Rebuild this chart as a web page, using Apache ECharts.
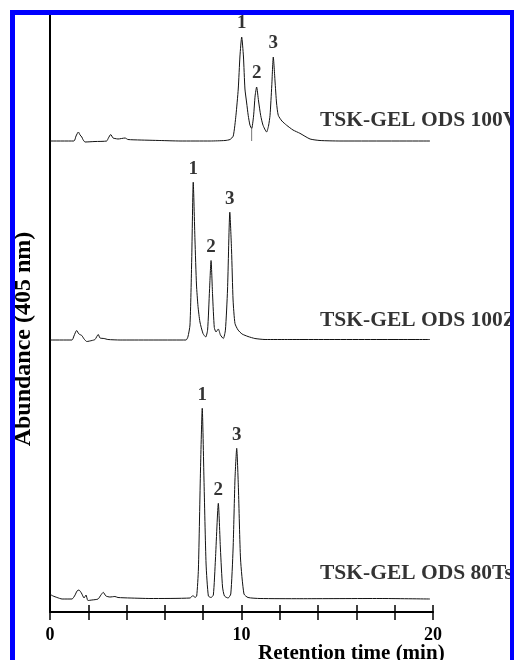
<!DOCTYPE html>
<html>
<head>
<meta charset="UTF-8">
<title>TSK-GEL chromatograms</title>
<script type="text/javascript" src="https://cdn.jsdelivr.net/npm/echarts@6/dist/echarts.min.js"></script>
<style>
html,body{margin:0;padding:0;background:#fff;}
</style>
</head>
<body>
<div id="main" style="width:514px;height:660px;"></div>

<script type="text/javascript">
// column names, top to bottom
var columns = ['TSK-GEL ODS 100V', 'TSK-GEL ODS 100Z', 'TSK-GEL ODS 80Ts'];
// vertical offset of each trace (abundance units)
var offsets = [471, 272, 13];
// labelled x ticks
var xLabels = [0, 10, 20];
var peakNames = ['1', '2', '3'];

// [retention time (min), abundance above own baseline]
var trace100V = [
  [0, 0], [1.25, 0], [1.36, 5], [1.48, 9], [1.57, 6], [1.66, 4], [1.72, 1.5], [1.83, -1],
  [2.35, -0.5], [2.96, 0], [3.05, 3], [3.17, 6.5], [3.29, 3], [3.39, 2.5], [3.55, 2],
  [3.92, 3], [4.07, 1.5], [4.7, 1], [5.74, 0.5], [6.79, 0], [8.36, 0], [9.14, 0.5],
  [9.4, 1.5], [9.57, 5], [9.71, 25.7], [9.83, 52], [9.92, 85], [10.01, 104], [10.1, 85],
  [10.18, 52], [10.27, 38], [10.35, 25.7], [10.44, 16], [10.53, 12.4], [10.63, 25],
  [10.71, 45], [10.79, 54], [10.89, 40], [11.0, 25.7], [11.12, 16], [11.31, 9],
  [11.41, 15], [11.49, 25.7], [11.58, 55], [11.66, 84], [11.75, 60], [11.83, 38],
  [11.92, 25.7], [12.11, 20], [12.36, 15.7], [12.69, 11], [13.05, 7.7], [13.58, 2],
  [14.1, 0.5], [15.14, 0], [19.84, 0]
];
var trace100Z = [
  [0, 0], [1.15, 0], [1.25, 4], [1.39, 9.5], [1.51, 6], [1.66, 4.5], [1.78, 1], [1.92, -1.5],
  [2.19, -0.5], [2.35, 0.5], [2.52, 5.5], [2.61, 2], [2.82, 1.5], [3.03, 0.5], [3.66, 0],
  [7.1, 0], [7.2, 3], [7.31, 15], [7.4, 80], [7.48, 157.8], [7.57, 100], [7.65, 55],
  [7.73, 33.5], [7.83, 18], [7.99, 6.5], [8.13, 3], [8.23, 10], [8.33, 50], [8.41, 79.5],
  [8.49, 45], [8.58, 12.5], [8.67, 8], [8.79, 11], [8.9, 5], [9.05, 1.5], [9.16, 10],
  [9.27, 50], [9.39, 127.8], [9.48, 90], [9.56, 40], [9.66, 16.5], [9.82, 10], [10.03, 6],
  [10.34, 3.5], [10.7, 1.5], [11.23, 0.5], [12.53, 0.5], [19.84, 0.5]
];
var trace80Ts = [
  [0, 4.7], [0.16, 3], [0.37, 1.5], [0.63, 0], [1.15, 0], [1.31, 4], [1.41, 8], [1.51, 9],
  [1.64, 6], [1.78, 1], [1.88, 4], [1.98, -1.5], [2.19, -1], [2.51, 0], [2.66, 4], [2.78, 6.7],
  [2.92, 3], [3.13, 2], [3.39, 2.5], [3.55, 1.5], [4.18, 1], [5.22, 0.5], [7.31, 1],
  [7.47, 3.5], [7.57, 1.5], [7.66, 3], [7.75, 30], [7.86, 130], [7.95, 190.7], [8.04, 120],
  [8.15, 35], [8.27, 3], [8.41, 1.5], [8.53, 4], [8.64, 40], [8.79, 95.7], [8.9, 50],
  [9.01, 12], [9.11, 3], [9.3, 1], [9.44, 5], [9.56, 50], [9.66, 120], [9.75, 150.7],
  [9.84, 110], [9.95, 40], [10.13, 5], [10.34, 1.5], [10.97, 0.5], [13.05, 0.3],
  [17.23, 0.5], [19.84, 0]
];
var peaks100V = [[10.01, 104], [10.79, 54], [11.66, 84]];
var peaks100Z = [[7.48, 157.8], [8.41, 79.5], [9.39, 127.8]];
var peaks80Ts = [[7.95, 190.7], [8.79, 95.7], [9.75, 150.7]];
// valley drop line on the 100V trace
var drop100V = [[10.53, 0], [10.53, 12.4]];

var traces = [trace100V, trace100Z, trace80Ts];
var peaks = [peaks100V, peaks100Z, peaks80Ts];

var serif = '"Liberation Serif", "Times New Roman", serif';
var mychart = echarts.init(document.getElementById('main'));

function shift(arr, off) {
  return arr.map(function (p) { return [p[0], p[1] + off]; });
}

var series = [];
traces.forEach(function (tr, k) {
  series.push({
    type: 'line',
    data: shift(tr, offsets[k]),
    showSymbol: false,
    smooth: 0.2,
    silent: true,
    lineStyle: { color: '#111', width: 1 }
  });
  series.push({
    type: 'scatter',
    symbolSize: 0,
    silent: true,
    data: peaks[k].map(function (p, i) {
      return { name: peakNames[i], value: [p[0], p[1] + offsets[k]] };
    }),
    label: {
      show: true, position: 'top', distance: 4, formatter: '{b}',
      color: '#000', fontFamily: serif, fontWeight: 'bold', fontSize: 19
    }
  });
});
// column names, placed a little above each baseline
var nameRise = [21, 20, 26];
series.push({
  type: 'scatter',
  symbolSize: 0,
  silent: true,
  data: columns.map(function (c, k) {
    return { name: c, value: [14.1, offsets[k] + nameRise[k]] };
  }),
  label: {
    show: true, position: 'right', distance: 0, formatter: '{b}',
    color: '#000', fontFamily: serif, fontWeight: 'bold', fontSize: 21.5
  }
});
series.push({
  type: 'line',
  data: shift(drop100V, offsets[0]),
  showSymbol: false,
  silent: true,
  lineStyle: { color: '#777', width: 1 }
});

var option = {
  animation: false,
  grid: { left: 50, right: 81, top: 12, bottom: 48 },
  xAxis: [{
    type: 'value', min: 0, max: 20, interval: 2,
    axisLine: { show: true, lineStyle: { color: '#000', width: 2 } },
    axisTick: { show: true, inside: true, length: 7, lineStyle: { color: '#000', width: 1.5 } },
    axisLabel: {
      margin: 14, color: '#000', fontFamily: serif, fontWeight: 'bold', fontSize: 18,
      formatter: function (v) { return xLabels.indexOf(v) >= 0 ? String(v) : ''; }
    },
    splitLine: { show: false }
  }, {
    type: 'value', min: 0, max: 20, interval: 2, position: 'bottom', offset: 0,
    axisLine: { show: false },
    axisTick: { show: true, inside: false, length: 8, lineStyle: { color: '#000', width: 1.5 } },
    axisLabel: { show: false },
    splitLine: { show: false }
  }],
  yAxis: {
    type: 'value', min: 0, max: 600,
    axisLine: { show: true, lineStyle: { color: '#000', width: 2 } },
    axisTick: { show: false },
    axisLabel: { show: false },
    splitLine: { show: false }
  },
  graphic: [{
    type: 'text', z: 50, x: 24, y: 339, rotation: Math.PI / 2,
    style: {
      text: 'Abundance (405 nm)', align: 'center', verticalAlign: 'middle',
      fill: '#000', font: 'bold 24px ' + serif
    }
  }, {
    type: 'text', z: 50,
    style: {
      text: 'Retention time (min)', x: 258, y: 654, verticalAlign: 'middle',
      fill: '#000', font: 'bold 21px ' + serif
    }
  }, {
    type: 'rect', z: 100, silent: true,
    shape: { x: 12.5, y: 12.5, width: 500, height: 700 },
    style: { fill: 'none', stroke: '#0000ff', lineWidth: 5 }
  }],
  series: series
};

mychart.setOption(option);
</script>
</body>
</html>
